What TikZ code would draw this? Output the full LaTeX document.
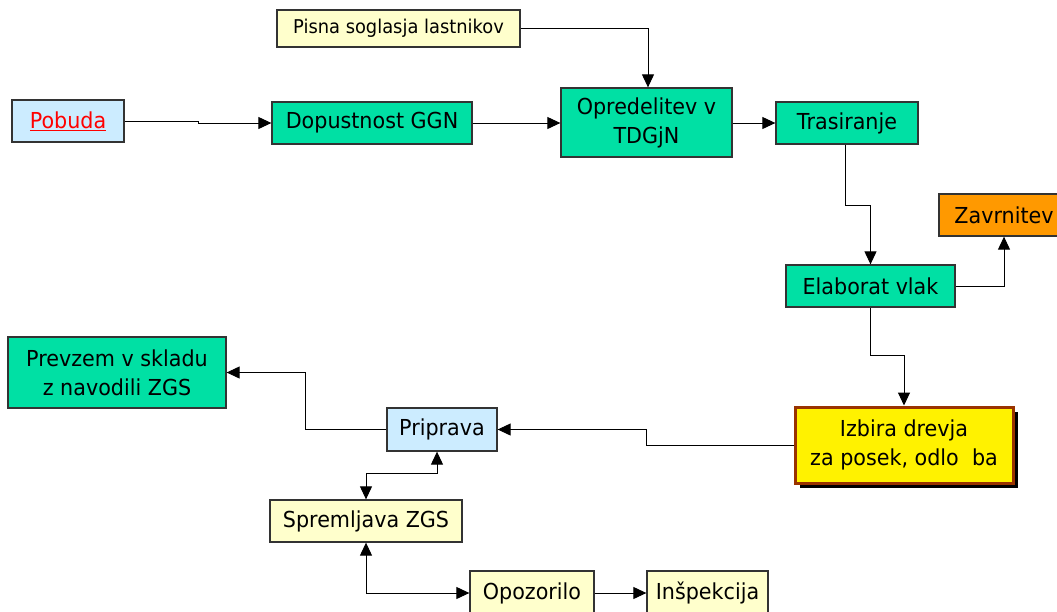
\documentclass[tikz,border=0pt]{standalone}
\usepackage{fontspec}
\setmainfont{DejaVu Sans}[FakeStretch=0.94]
\usetikzlibrary{arrows.meta,shadows}
\definecolor{grn}{RGB}{0,224,164}
\definecolor{lblue}{RGB}{204,236,255}
\definecolor{lyel}{RGB}{255,255,204}
\definecolor{orng}{RGB}{255,153,0}
\definecolor{brwn}{RGB}{153,51,0}
\definecolor{bord}{RGB}{51,51,51}
\tikzset{
  box/.style={draw=bord, line width=1.3pt, inner sep=0pt, align=center,
    font=\fontsize{22}{29}\selectfont},
  gbox/.style={box, fill=grn},
  bbox/.style={box, fill=lblue},
  ybox/.style={box, fill=lyel},
  arr/.style={line width=1pt, -{Triangle[length=13pt,width=12pt]}},
  darr/.style={line width=1pt, {Triangle[length=13pt,width=12pt]}-{Triangle[length=13pt,width=12pt]}},
}
\begin{document}
\begin{tikzpicture}[x=1pt,y=-1pt]
\clip (0,0) rectangle (1057,611);
\fill[white] (0,0) rectangle (1057,611);
\node[ybox, minimum width=243pt, minimum height=37pt, font=\fontsize{19}{22}\selectfont] (pis) at (398.5,28.5) {Pisna soglasja lastnikov};
\node[bbox, minimum width=112pt, minimum height=42pt] (pob) at (68,121) {\textcolor{red}{\underline{Pobuda}}};
\node[gbox, minimum width=200pt, minimum height=42pt] (dop) at (372,123) {Dopustnost GGN};
\node[gbox, minimum width=171pt, minimum height=69pt] (opr) at (646.5,122.5) {Opredelitev v\\TDGjN};
\node[gbox, minimum width=142pt, minimum height=42pt] (tra) at (847,123) {Trasiranje};
\node[box, fill=orng, minimum width=130pt, minimum height=42pt] (zav) at (1004,215) {Zavrnitev};
\node[gbox, minimum width=169pt, minimum height=42pt] (ela) at (870.5,286) {Elaborat vlak};
\node[gbox, minimum width=218pt, minimum height=71pt] (prv) at (117,372.5) {Prevzem v skladu\\z navodili ZGS};
\node[bbox, minimum width=110pt, minimum height=43pt] (pri) at (442,429.5) {Priprava};
\node[box, draw=brwn, line width=3pt, fill=yellow, minimum width=218pt, minimum height=76pt,
  drop shadow={shadow xshift=5pt, shadow yshift=-5pt, fill=black, opacity=1}] (izb) at (904,445) {Izbira drevja\\za posek, odlo\hspace{0.6em}ba};
\node[ybox, minimum width=192pt, minimum height=42pt] (spr) at (366,521) {Spremljava ZGS};
\node[ybox, minimum width=124pt, minimum height=44pt] (opo) at (532,593) {Opozorilo};
\node[ybox, minimum width=121pt, minimum height=44pt] (ins) at (707.5,593) {Inšpekcija};
\draw[arr] (pob.east) -- ++(74,0) |- (dop.west);
\draw[arr] (dop.east) -- (opr.west |- dop.east);
\draw[arr] (pis.east) -| ([xshift=1.5pt]opr.north);
\draw[arr] (opr.east |- tra.west) -- (tra.west);
\draw[arr] ([xshift=-2pt]tra.south) -- ++(0,61) -| (ela.north);
\draw[arr] (ela.east) -| (zav.south);
\draw[arr] (ela.south) -- ++(0,48) -| (izb.north);
\draw[arr] (izb.west) -- ++(-147,0) |- (pri.east);
\draw[arr] (pri.west) -- ++(-81,0) |- (prv.east);
\draw[darr] ([xshift=-5pt]pri.south) -- ++(0,22) -| (spr.north);
\draw[darr] (spr.south) |- (opo.west);
\draw[arr] (opo.east) -- (ins.west);
\end{tikzpicture}
\end{document}
